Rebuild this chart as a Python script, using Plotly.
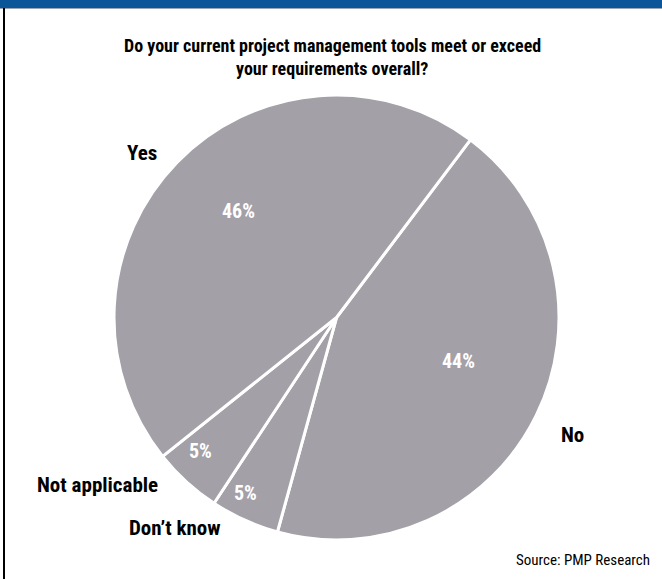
import math
import plotly.graph_objects as go

# Survey answers, listed clockwise starting from the No slice
labels = ["No", "Don\u2019t know", "Not applicable", "Yes"]
values = [44, 5, 5, 46]

title_lines = [
    "Do your current project management tools meet or exceed",
    "your requirements overall?",
]
source_text = "Source: PMP Research"

W, H = 662, 579
CX, CY, R = 336.5, 317.5, 222.5     # pie centre and radius in pixels
ROTATION = 37                         # start angle of the first slice (deg, clockwise from 12 o'clock)

FONT = "Liberation Sans Narrow, Arial Narrow, Roboto Condensed, DejaVu Sans Condensed, sans-serif"
SLICE_COLOR = "#a3a0a8"
BLUE = "#0b5699"

fig = go.Figure(
    go.Pie(
        labels=labels,
        values=values,
        sort=False,
        direction="clockwise",
        rotation=ROTATION,
        marker=dict(colors=[SLICE_COLOR] * len(values), line=dict(color="white", width=3)),
        textinfo="none",
        hoverinfo="label+percent",
        showlegend=False,
        domain=dict(x=[(CX - R) / W, (CX + R) / W], y=[1 - (CY + R) / H, 1 - (CY - R) / H]),
    )
)

# Percentages inside each slice: radius as a fraction of R, plus a small angular nudge
radial = [0.584, 0.888, 0.858, 0.65]
nudge = [-6.6, 2.9, 3.2, 3.0]
total = sum(values)
start = ROTATION
annotations = []
for v, rf, dn in zip(values, radial, nudge):
    mid = math.radians(start + v / total * 360 / 2 + dn)
    px = CX + rf * R * math.sin(mid)
    py = CY - rf * R * math.cos(mid)
    annotations.append(dict(
        x=px / W, y=1 - py / H, xref="paper", yref="paper",
        text=f"{round(v / total * 100)}%", showarrow=False,
        font=dict(family=FONT, size=20, color="white", weight="bold"),
        xanchor="center", yanchor="middle",
    ))
    start += v / total * 360

# Category names around the pie
outer = {
    "Yes": (142, 153),
    "No": (572, 435),
    "Not applicable": (98, 485),
    "Don\u2019t know": (175, 528),
}
for name, (x, y) in outer.items():
    annotations.append(dict(
        x=x / W, y=1 - y / H, xref="paper", yref="paper", text=name, showarrow=False,
        font=dict(family=FONT, size=21, color="black", weight="bold"),
        xanchor="center", yanchor="middle",
    ))

# Two-line heading
for i, line in enumerate(title_lines):
    annotations.append(dict(
        x=332 / W, y=1 - (45 + 23 * i) / H, xref="paper", yref="paper", text=line,
        showarrow=False, font=dict(family=FONT, size=18, color="black", weight="bold"),
        xanchor="center", yanchor="middle",
    ))

annotations.append(dict(
    x=652 / W, y=1 - 560 / H, xref="paper", yref="paper", text=source_text,
    showarrow=False, font=dict(family=FONT, size=15, color="black"),
    xanchor="right", yanchor="middle",
))

shapes = [
    # blue strip across the top
    dict(type="rect", xref="paper", yref="paper", x0=0, x1=1, y0=1 - 8 / H, y1=1,
         fillcolor=BLUE, line=dict(width=0), layer="above"),
    dict(type="line", xref="paper", yref="paper", x0=0, x1=1, y0=1 - 8.5 / H, y1=1 - 8.5 / H,
         line=dict(color="#9aa6b4", width=1)),
    # frame line on the left
    dict(type="line", xref="paper", yref="paper", x0=4 / W, x1=4 / W, y0=0, y1=1 - 8 / H,
         line=dict(color="black", width=2)),
]

fig.update_layout(
    width=W, height=H,
    margin=dict(l=0, r=0, t=0, b=0),
    paper_bgcolor="white", plot_bgcolor="white",
    annotations=annotations, shapes=shapes,
)

fig.write_html("out.html", config={"displayModeBar": False})
